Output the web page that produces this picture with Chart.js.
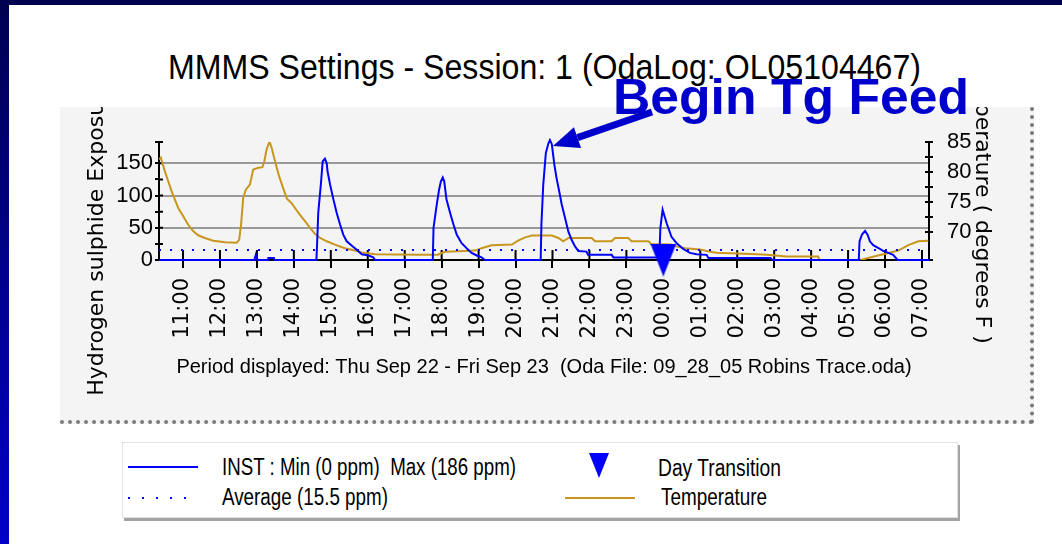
<!DOCTYPE html>
<html>
<head>
<meta charset="utf-8">
<title>MMMS Settings</title>
<script src="https://cdn.jsdelivr.net/npm/chart.js@4.4.1/dist/chart.umd.min.js"></script>
<style>
  html, body { margin: 0; padding: 0; }
  body {
    width: 1062px; height: 544px; position: relative; overflow: hidden; background: #fff;
    font-family: 'Liberation Sans Narrow', 'Arial Narrow', 'Liberation Sans', Arial, sans-serif;
  }
  #barL { position: absolute; left: 0; top: 0; width: 9px; height: 544px; background: linear-gradient(#000050, #0000c8); }
  #barT { position: absolute; left: 0; top: 0; width: 1062px; height: 5px; background: #000050; }
  .fit { position: absolute; white-space: pre; transform-origin: 0 0; display: inline-block; }
  #title { left: 168px; top: 49px; font-family: 'Liberation Sans', Arial, sans-serif; font-size: 35px; line-height: 35px; color: #000; }
  #panel {
    position: absolute; left: 60px; top: 107px; width: 970px; height: 313px; background: #f4f4f4;
    border-right: 4px dotted #7a7a7a; border-bottom: 4px dotted #7a7a7a;
  }
  #panel canvas { position: absolute; left: 0; top: 0; }
  #note { left: 613px; top: 72px; font-family: 'Liberation Sans', Arial, sans-serif; font-weight: bold; font-size: 50px; line-height: 50px; color: #0000cc; z-index: 5; }
  #legend {
    position: absolute; left: 122px; top: 442px; width: 834px; height: 74px; background: #fff;
    border: 1px solid #e2e2e2; box-shadow: 2px 3px 0 #a4a4a4;
  }
  #legend .fit { font-size: 23px; line-height: 26px; color: #000; }
  .swatch { position: absolute; height: 2px; }
</style>
</head>
<body>
<div id="barL"></div>
<div id="barT"></div>
<div id="title" class="fit">MMMS Settings - Session: 1 (OdaLog: OL05104467)</div>
<div id="panel"><canvas id="chart" width="970" height="313"></canvas></div>
<div id="note" class="fit">Begin Tg Feed</div>
<div id="legend">
  <div class="swatch" style="left:5px; top:23px; width:70px; background:#0000ff;"></div>
  <div id="lg1" class="fit" style="left:99px; top:11px;">INST : Min (0 ppm)  Max (186 ppm)</div>
  <div class="swatch" style="left:5px; top:54px; width:70px; background:repeating-linear-gradient(90deg, #0000ff 0 2px, transparent 2px 14px);"></div>
  <div id="lg2" class="fit" style="left:99px; top:41px;">Average (15.5 ppm)</div>
  <div style="position:absolute; left:466px; top:10px; width:0; height:0; border-left:10px solid transparent; border-right:10px solid transparent; border-top:25px solid #0000ff;"></div>
  <div id="lg3" class="fit" style="left:535px; top:12px;">Day Transition</div>
  <div class="swatch" style="left:442px; top:54px; width:70px; background:#c8961e;"></div>
  <div id="lg4" class="fit" style="left:538px; top:41px;">Temperature</div>
</div>

<script>
// hours are counted from midnight Thu Sep 22 (24 = 00:00 Fri Sep 23)
const hourTicks = [11, 12, 13, 14, 15, 16, 17, 18, 19, 20, 21, 22, 23, 24, 25, 26, 27, 28, 29, 30, 31];
const hourLabels = ['11:00', '12:00', '13:00', '14:00', '15:00', '16:00', '17:00', '18:00', '19:00', '20:00',
    '21:00', '22:00', '23:00', '00:00', '01:00', '02:00', '03:00', '04:00', '05:00', '06:00', '07:00'];
const hourMin = 10.35;
const hourMax = 31.19;

// INST H2S reading (ppm)
const instHours = [10.35, 12.93, 12.97, 13.02, 13.30, 13.31, 13.46, 13.47,
    14.61, 14.63, 14.66, 14.73, 14.78, 14.84, 14.89, 14.91, 14.98, 15.07, 15.16, 15.25, 15.34, 15.43, 15.57, 15.70, 15.84, 16.02, 16.15, 16.20,
    17.76, 17.78, 17.86, 17.93, 17.98, 18.03, 18.07, 18.13, 18.23, 18.32, 18.41, 18.54, 18.68, 18.81, 18.95, 19.08, 19.17,
    20.68, 20.70, 20.75, 20.82, 20.89, 20.93, 20.98, 21.00, 21.05, 21.11, 21.18, 21.25, 21.34, 21.43, 21.52, 21.61, 21.70, 21.92, 21.96, 22.60, 22.65,
    23.89, 23.92, 23.98, 24.09, 24.22, 24.36, 24.54, 24.72, 24.90, 25.17, 25.22, 26.90, 26.95,
    29.29, 29.31, 29.38, 29.46, 29.53, 29.59, 29.68, 29.81, 29.95, 30.09, 30.22, 30.34, 31.19];
const instValues = [0, 0, 8, 0, 0, 3, 3, 0,
    0, 26, 73, 117, 153, 157, 150, 138, 117, 94, 73, 55, 39, 29, 22, 16, 9, 7, 4, 0,
    0, 50, 83, 109, 122, 128, 122, 94, 73, 55, 39, 26, 18, 11, 7, 4, 0,
    0, 55, 117, 166, 181, 186, 180, 171, 148, 127, 107, 86, 65, 44, 31, 21, 14, 13, 8, 8, 4,
    4, 50, 78, 57, 36, 26, 17, 11, 9, 8, 3, 3, 0,
    0, 29, 40, 45, 39, 29, 23, 19, 14, 11, 8, 0, 0];

const averagePpm = 15.5;

// Temperature (degrees F), right axis
const tempHours = [10.35, 10.40, 10.44, 10.51, 10.60, 10.69, 10.78, 10.87, 11.01, 11.14, 11.28, 11.41, 11.59, 11.82, 12.14, 12.45,
    12.52, 12.57, 12.63, 12.70, 12.81, 12.90, 13.04, 13.15, 13.20, 13.26, 13.34, 13.40, 13.49, 13.60, 13.71, 13.81, 13.94,
    14.03, 14.17, 14.30, 14.44, 14.57, 14.71, 14.89, 15.11, 15.38, 15.65, 15.84, 16.20, 17.41, 17.90,
    18.09, 18.45, 18.90, 19.08, 19.35, 19.90, 20.07, 20.26, 20.44, 20.98, 21.16, 21.29, 21.43, 22.06, 22.15, 22.60, 22.69,
    23.05, 23.14, 23.59, 23.68, 24.20, 24.36, 24.59, 24.99, 25.26, 25.44, 26.53, 26.80, 27.34, 28.19, 28.25, 29.30,
    29.37, 29.73, 30.09, 30.36, 30.63, 30.90, 31.17];
const tempValues = [82.1, 82.4, 81.5, 80.1, 78.45, 76.8, 75.4, 74.0, 72.6, 71.2, 70.1, 69.45, 69.0, 68.55, 68.3, 68.2,
    68.7, 71.2, 75.7, 77.05, 77.9, 80.4, 80.7, 80.8, 81.8, 83.7, 85.1, 84.0, 81.8, 79.3, 77.3, 75.55, 74.8,
    74.0, 72.8, 71.8, 70.7, 69.7, 69.0, 68.45, 67.9, 67.3, 66.9, 66.6, 66.3, 66.2, 66.2,
    66.7, 66.8, 66.9, 67.3, 67.8, 67.9, 68.55, 69.1, 69.4, 69.4, 69.0, 68.45, 69.0, 69.0, 68.45, 68.45, 69.0,
    69.0, 68.45, 68.45, 68.0, 67.9, 67.6, 67.3, 67.1, 66.7, 66.55, 66.3, 66.2, 65.9, 65.9, 64.9, 64.9,
    65.4, 65.95, 66.5, 66.9, 67.8, 68.45, 68.55];

// day transition marker (midnight)
const dayTransitionHours = [24];

const narrow = "'Liberation Sans Narrow', 'Arial Narrow', 'Liberation Sans', Arial, sans-serif";
const wide = "'DejaVu Sans', Verdana, sans-serif";

// squeeze a text block to the width it has in the original screenshot
function fitWidth(id, target) {
    const el = document.getElementById(id);
    const w = el.getBoundingClientRect().width;
    el.style.transform = 'scaleX(' + (target / w).toFixed(4) + ')';
}
fitWidth('title', 753);
fitWidth('note', 356);
fitWidth('lg1', 294);
fitWidth('lg2', 166);
fitWidth('lg3', 123);
fitWidth('lg4', 106);

function toPoints(xs, ys) {
    return xs.map((x, i) => ({ x: x, y: ys[i] }));
}

// blue downward triangle used as the day transition marker
const tri = document.createElement('canvas');
tri.width = 26;
tri.height = 33;
const tctx = tri.getContext('2d');
tctx.fillStyle = '#0000ff';
tctx.beginPath();
tctx.moveTo(0, 0);
tctx.lineTo(26, 0);
tctx.lineTo(13, 33);
tctx.closePath();
tctx.fill();

// short tick stubs on the inner side of each axis
const innerTicks = {
    id: 'innerTicks',
    beforeDatasetsDraw(chart) {
        const { ctx, chartArea: a, scales } = chart;
        ctx.save();
        ctx.strokeStyle = '#000';
        ctx.lineWidth = 2;
        ctx.beginPath();
        scales.y.ticks.forEach(t => {
            const p = scales.y.getPixelForValue(t.value);
            ctx.moveTo(a.left, p); ctx.lineTo(a.left + 4, p);
        });
        scales.y2.ticks.forEach(t => {
            const p = scales.y2.getPixelForValue(t.value);
            ctx.moveTo(a.right - 4, p); ctx.lineTo(a.right, p);
        });
        scales.x.ticks.forEach(t => {
            const p = scales.x.getPixelForValue(t.value);
            ctx.moveTo(p, a.bottom); ctx.lineTo(p, a.bottom - 10);
        });
        ctx.stroke();
        ctx.restore();
    }
};

// "Begin Tg Feed" arrow pointing at the highest INST peak
const feedArrow = {
    id: 'feedArrow',
    afterDraw(chart) {
        const { ctx, scales } = chart;
        const k = instValues.indexOf(Math.max(...instValues));
        const tipX = scales.x.getPixelForValue(instHours[k]) + 3;
        const tipY = scales.y.getPixelForValue(instValues[k]) + 6;
        const tailX = 592, tailY = 5;
        const ang = Math.atan2(tailY - tipY, tailX - tipX);
        const headLen = 26, headHalf = 11;
        const bx = tipX + Math.cos(ang) * headLen;
        const by = tipY + Math.sin(ang) * headLen;
        ctx.save();
        ctx.strokeStyle = '#0000cc';
        ctx.fillStyle = '#0000cc';
        ctx.lineWidth = 7;
        ctx.beginPath();
        ctx.moveTo(bx, by);
        ctx.lineTo(tailX, tailY);
        ctx.stroke();
        ctx.beginPath();
        ctx.moveTo(tipX, tipY);
        ctx.lineTo(bx - Math.sin(ang) * headHalf, by + Math.cos(ang) * headHalf);
        ctx.lineTo(bx + Math.sin(ang) * headHalf, by - Math.cos(ang) * headHalf);
        ctx.closePath();
        ctx.fill();
        ctx.restore();
    }
};

Chart.defaults.color = '#000';

new Chart(document.getElementById('chart'), {
    type: 'line',
    data: {
        datasets: [
            {
                label: 'Day Transition',
                data: dayTransitionHours.map(h => ({ x: h, y: 0 })),
                yAxisID: 'y',
                showLine: false,
                pointStyle: tri,
                pointRadius: 13,
                clip: false,
                order: 0
            },
            {
                label: 'INST',
                data: toPoints(instHours, instValues),
                yAxisID: 'y',
                borderColor: '#0000ff',
                borderWidth: 2,
                pointRadius: 0,
                clip: 4,
                order: 1
            },
            {
                label: 'Average (15.5 ppm)',
                data: [{ x: hourMin, y: averagePpm }, { x: hourMax, y: averagePpm }],
                yAxisID: 'y',
                borderColor: '#0000ff',
                borderWidth: 2,
                borderDash: [2, 9],
                pointRadius: 0,
                order: 2
            },
            {
                label: 'Temperature',
                data: toPoints(tempHours, tempValues),
                yAxisID: 'y2',
                borderColor: '#c8961e',
                borderWidth: 2,
                pointRadius: 0,
                order: 3
            }
        ]
    },
    options: {
        responsive: false,
        animation: false,
        devicePixelRatio: 1,
        layout: { padding: { top: 35, left: 0, right: 0, bottom: 0 } },
        plugins: {
            legend: { display: false },
            tooltip: { enabled: false }
        },
        scales: {
            x: {
                type: 'linear',
                min: hourMin,
                max: hourMax,
                afterBuildTicks: (s) => { s.ticks = hourTicks.map(v => ({ value: v })); },
                afterFit: (s) => { s.height = 160; },
                ticks: {
                    autoSkip: false,
                    minRotation: 90,
                    maxRotation: 90,
                    padding: 10,
                    font: { family: wide, size: 21 },
                    callback: (v) => hourLabels[hourTicks.indexOf(v)]
                },
                grid: { drawOnChartArea: false, tickLength: 8, tickColor: '#000', lineWidth: 2, z: -1 },
                border: { color: '#000', width: 2 },
                title: {
                    display: true,
                    text: 'Period displayed: Thu Sep 22 - Fri Sep 23  (Oda File: 09_28_05 Robins Trace.oda)',
                    font: { family: narrow, size: 20 },
                    padding: { top: 0, bottom: 41 }
                }
            },
            y: {
                position: 'left',
                min: 0,
                max: 183,
                afterFit: (s) => { s.width = 99; },
                ticks: {
                    autoSkip: false,
                    stepSize: 25,
                    padding: 2,
                    font: { family: narrow, size: 22 },
                    callback: (v) => (v % 50 === 0 ? v : '')
                },
                grid: {
                    color: (c) => (c.tick && c.tick.value > 0 && c.tick.value % 50 === 0) ? '#999999' : 'rgba(0,0,0,0)',
                    lineWidth: 2,
                    tickColor: '#000',
                    tickLength: 4,
                    z: -1
                },
                border: { color: '#000', width: 2 },
                title: {
                    display: true,
                    text: 'Hydrogen sulphide Exposure (ppm)',
                    font: { family: wide, size: 22 },
                    padding: { top: 24, bottom: 0 }
                }
            },
            y2: {
                position: 'right',
                min: 65.33,
                max: 85,
                afterFit: (s) => { s.width = 101; },
                ticks: {
                    autoSkip: false,
                    stepSize: 2.5,
                    padding: 14,
                    font: { family: narrow, size: 22 },
                    callback: (v) => (Math.abs(v % 5) < 1e-6 ? v : '')
                },
                grid: { drawOnChartArea: false, tickColor: '#000', tickLength: 4, lineWidth: 2, z: -1 },
                border: { color: '#000', width: 2 },
                title: {
                    display: true,
                    text: 'Temperature ( degrees F )',
                    font: { family: wide, size: 22 },
                    padding: { top: 35, bottom: 0 }
                }
            }
        }
    },
    plugins: [innerTicks, feedArrow]
});
</script>
</body>
</html>
